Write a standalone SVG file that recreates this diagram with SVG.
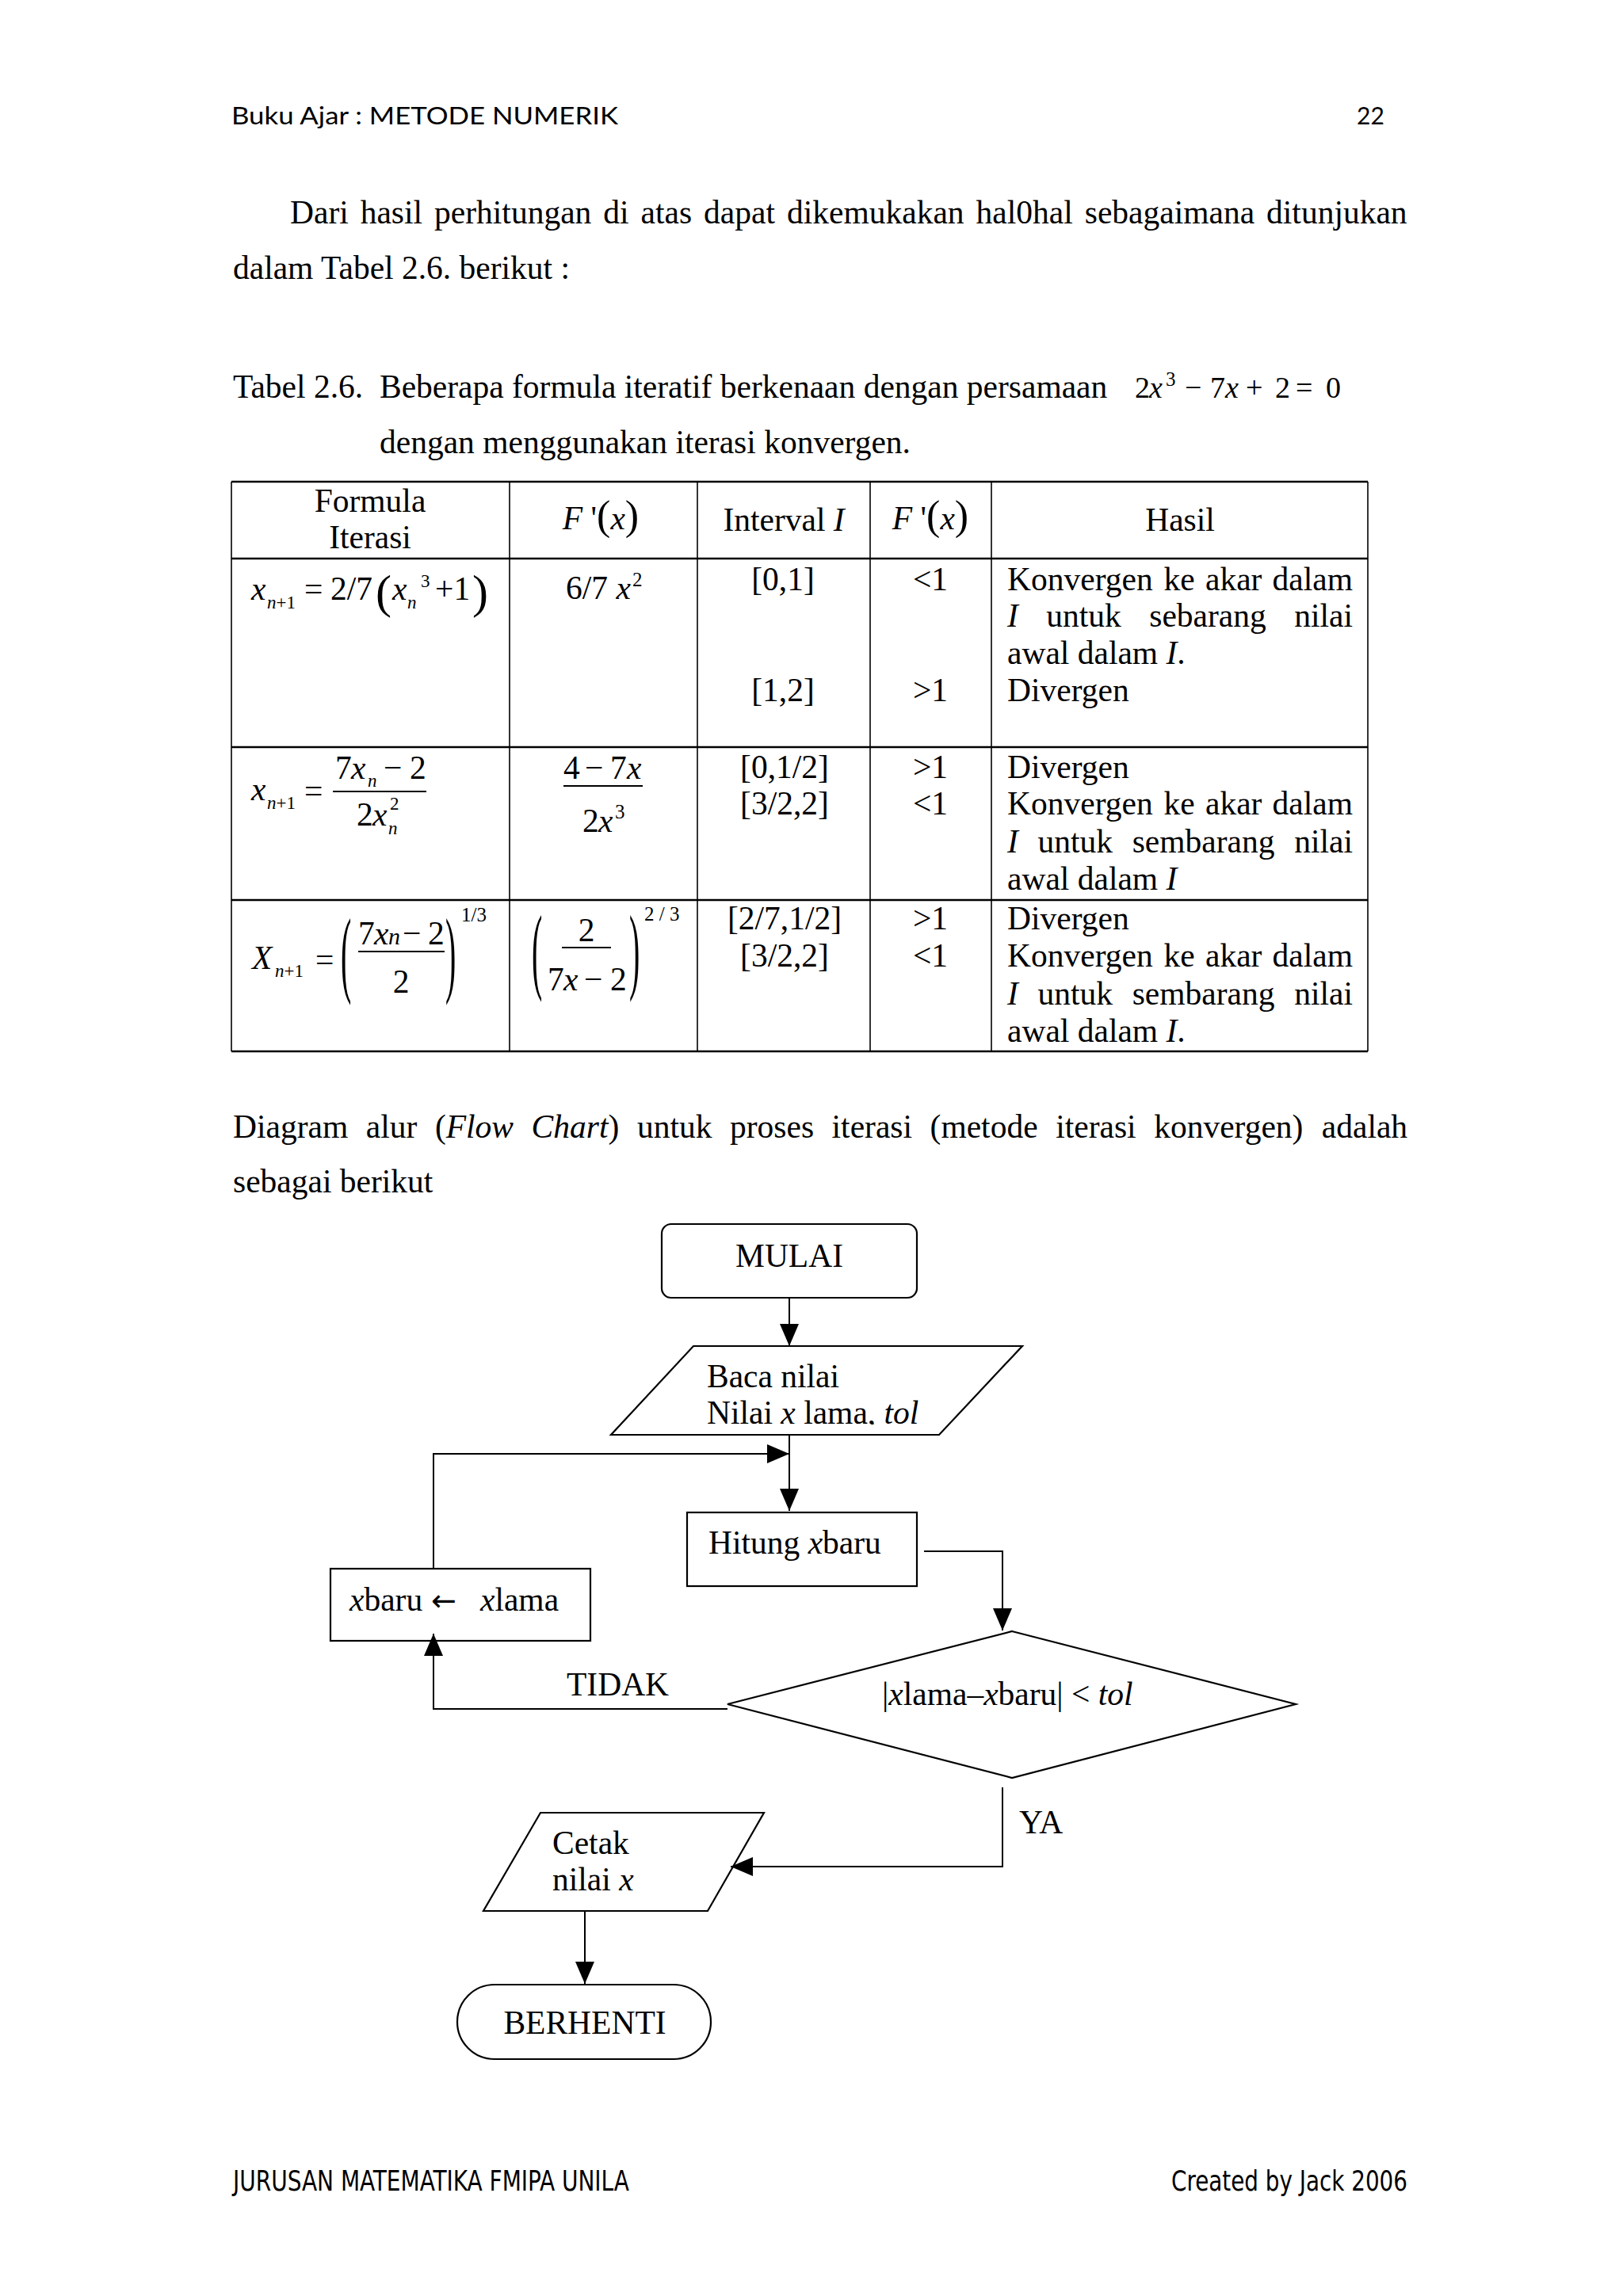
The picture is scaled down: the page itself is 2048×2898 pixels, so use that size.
<svg xmlns="http://www.w3.org/2000/svg" width="2048" height="2898" viewBox="0 0 2048 2898">
<style>
text{font-family:"Liberation Serif","Times New Roman",serif;font-size:41.5px;fill:#000}
.i{font-style:italic}
.s{font-size:25px}
.ss{font-size:23px}
.m{text-anchor:middle}
.eq{font-size:38px}
.big50{font-size:52px}
.big60{font-size:60px}
.arr{font-family:"DejaVu Sans",sans-serif;font-size:38px}
.hd{font-family:Lato,"DejaVu Sans",sans-serif;font-size:30px}
.ft{font-family:"DejaVu Sans Condensed","Liberation Sans Narrow","DejaVu Sans",sans-serif;font-size:36px}
.hl{stroke:#000;stroke-width:2.5;fill:none}
.vl{stroke:#000;stroke-width:1.6;fill:none}
.shape{fill:none;stroke:#000;stroke-width:2.2}
.con{fill:none;stroke:#000;stroke-width:2}
.bar{stroke:#000;stroke-width:2}
</style>
<defs>
<marker id="ah" markerUnits="userSpaceOnUse" markerWidth="28" markerHeight="24" refX="28" refY="12" orient="auto">
<path d="M0,0 L28,12 L0,24 z" fill="#000"/>
</marker>
<clipPath id="bacaclip"><rect x="760" y="1690" width="540" height="108"/></clipPath>
</defs>
<rect width="2048" height="2898" fill="#fff"/>

<!-- header -->
<text class="hd" x="292" y="157" textLength="488" lengthAdjust="spacingAndGlyphs">Buku Ajar : METODE NUMERIK</text>
<text class="hd" x="1712" y="157">22</text>

<!-- paragraph -->
<text y="282"><tspan x="366">Dari</tspan><tspan x="454.7">hasil</tspan><tspan x="548.1">perhitungan</tspan><tspan x="761.3">di</tspan><tspan x="808.6">atas</tspan><tspan x="888.1">dapat</tspan><tspan x="993">dikemukakan</tspan><tspan x="1231.6">hal0hal</tspan><tspan x="1368.8">sebagaimana</tspan><tspan x="1598.1">ditunjukan</tspan></text>
<text x="294" y="352">dalam Tabel 2.6. berikut :</text>

<!-- caption -->
<text y="502"><tspan x="294">Tabel 2.6.</tspan><tspan x="479">Beberapa formula iteratif berkenaan dengan persamaan</tspan></text>
<g id="eq-caption">
<text class="eq" y="502"><tspan x="1432">2</tspan><tspan x="1450" class="i">x</tspan></text>
<text class="s" x="1471" y="487">3</text>
<text class="eq" y="502"><tspan x="1495">−</tspan><tspan x="1527">7</tspan><tspan x="1546" class="i">x</tspan><tspan x="1572">+</tspan><tspan x="1609">2</tspan><tspan x="1635">=</tspan><tspan x="1673">0</tspan></text>
</g>
<text x="479" y="572">dengan menggunakan iterasi konvergen.</text>

<!-- table -->
<g id="table">
<g id="table-lines">
<line class="hl" x1="292" y1="608" x2="1726" y2="608"/>
<line class="hl" x1="292" y1="705" x2="1726" y2="705"/>
<line class="hl" x1="292" y1="943" x2="1726" y2="943"/>
<line class="hl" x1="292" y1="1136" x2="1726" y2="1136"/>
<line class="hl" x1="292" y1="1327" x2="1726" y2="1327"/>
<line class="vl" x1="292" y1="608" x2="292" y2="1327"/>
<line class="vl" x1="643" y1="608" x2="643" y2="1327"/>
<line class="vl" x1="880" y1="608" x2="880" y2="1327"/>
<line class="vl" x1="1098" y1="608" x2="1098" y2="1327"/>
<line class="vl" x1="1251" y1="608" x2="1251" y2="1327"/>
<line class="vl" x1="1726" y1="608" x2="1726" y2="1327"/>
</g>
<g id="table-header">
<text class="m" x="467" y="646">Formula</text>
<text class="m" x="467" y="692">Iterasi</text>
<text class="m" x="758" y="668"><tspan class="i">F</tspan> '<tspan class="big50">(</tspan><tspan class="i">x</tspan><tspan class="big50">)</tspan></text>
<text class="m" x="989" y="670">Interval <tspan class="i">I</tspan></text>
<text class="m" x="1174" y="668"><tspan class="i">F</tspan> '<tspan class="big50">(</tspan><tspan class="i">x</tspan><tspan class="big50">)</tspan></text>
<text class="m" x="1489" y="670">Hasil</text>
</g>
<g id="row1">
<text class="i" x="317" y="757">x</text>
<text class="ss" x="337" y="768"><tspan class="i">n</tspan>+1</text>
<text x="384" y="757">=</text>
<text x="417" y="757">2/7</text>
<text class="big60" x="474" y="767">(</text>
<text class="i" x="495" y="757">x</text>
<text class="ss i" x="514" y="768">n</text>
<text class="ss" x="531" y="741">3</text>
<text x="549" y="757">+1</text>
<text class="big60" x="596" y="767">)</text>
<text x="714" y="756">6/7 <tspan class="i">x</tspan></text>
<text class="s" x="798" y="740">2</text>
<text class="m" x="988" y="745">[0,1]</text>
<text class="m" x="1174" y="745">&lt;1</text>
<text class="m" x="988" y="885">[1,2]</text>
<text class="m" x="1174" y="885">&gt;1</text>
<text y="745"><tspan x="1271">Konvergen</tspan><tspan x="1468.6">ke</tspan><tspan x="1521">akar</tspan><tspan x="1605.6">dalam</tspan></text>
<text y="791"><tspan x="1271" class="i">I</tspan><tspan x="1320.3">untuk</tspan><tspan x="1450.3">sebarang</tspan><tspan x="1633.3">nilai</tspan></text>
<text x="1271" y="838">awal dalam <tspan class="i">I</tspan>.</text>
<text x="1271" y="885">Divergen</text>
</g>
<g id="row2">
<text class="i" x="317" y="1010">x</text>
<text class="ss" x="337" y="1021"><tspan class="i">n</tspan>+1</text>
<text x="384" y="1012">=</text>
<text y="983"><tspan x="423">7</tspan><tspan class="i" x="443">x</tspan></text>
<text class="ss i" x="464" y="993">n</text>
<text y="983"><tspan x="484">−</tspan><tspan x="517">2</tspan></text>
<line class="bar" x1="420" y1="999" x2="538" y2="999"/>
<text y="1042"><tspan x="450">2</tspan><tspan class="i" x="470">x</tspan></text>
<text class="ss i" x="490" y="1053">n</text>
<text class="ss" x="492" y="1022">2</text>
<text y="983"><tspan x="711">4</tspan><tspan x="738">−</tspan><tspan x="770">7</tspan><tspan class="i" x="791">x</tspan></text>
<line class="bar" x1="711" y1="992" x2="811" y2="992"/>
<text y="1050"><tspan x="735">2</tspan><tspan class="i" x="755">x</tspan></text>
<text class="s" x="776" y="1033">3</text>
<text class="m" x="990" y="982">[0,1/2]</text>
<text class="m" x="990" y="1028">[3/2,2]</text>
<text class="m" x="1174" y="982">&gt;1</text>
<text class="m" x="1174" y="1028">&lt;1</text>
<text x="1271" y="982">Divergen</text>
<text y="1028"><tspan x="1271">Konvergen</tspan><tspan x="1468.6">ke</tspan><tspan x="1521">akar</tspan><tspan x="1605.6">dalam</tspan></text>
<text y="1076"><tspan x="1271" class="i">I</tspan><tspan x="1309.5">untuk</tspan><tspan x="1428.7">sembarang</tspan><tspan x="1633.2">nilai</tspan></text>
<text x="1271" y="1123">awal dalam <tspan class="i">I</tspan></text>
</g>
<g id="row3">
<text class="i" x="318" y="1223">X</text>
<text class="ss" x="347" y="1233"><tspan class="i">n</tspan>+1</text>
<text x="398" y="1225">=</text>
<text transform="translate(430,1214) scale(1,3)" y="9.6" style="font-size:40px">(</text>
<text y="1192"><tspan x="452">7</tspan><tspan class="i" x="472">x</tspan></text>
<text class="i" x="490" y="1192" style="font-size:30px">n</text>
<text y="1192"><tspan x="508">−</tspan><tspan x="540">2</tspan></text>
<line class="bar" x1="452" y1="1201" x2="561" y2="1201"/>
<text class="m" x="506" y="1253">2</text>
<text transform="translate(562,1214) scale(1,3)" y="9.6" style="font-size:40px">)</text>
<text class="s" x="582" y="1163">1/3</text>
<text transform="translate(671,1210) scale(1,3)" y="9.6" style="font-size:40px">(</text>
<text class="m" x="740" y="1188">2</text>
<line class="bar" x1="709" y1="1196" x2="771" y2="1196"/>
<text y="1250"><tspan x="691">7</tspan><tspan class="i" x="711">x</tspan><tspan x="737">−</tspan><tspan x="770">2</tspan></text>
<text transform="translate(794,1210) scale(1,3)" y="9.6" style="font-size:40px">)</text>
<text class="s" x="813" y="1162">2 / 3</text>
<text class="m" x="990" y="1173">[2/7,1/2]</text>
<text class="m" x="990" y="1220">[3/2,2]</text>
<text class="m" x="1174" y="1173">&gt;1</text>
<text class="m" x="1174" y="1220">&lt;1</text>
<text x="1271" y="1173">Divergen</text>
<text y="1220"><tspan x="1271">Konvergen</tspan><tspan x="1468.6">ke</tspan><tspan x="1521">akar</tspan><tspan x="1605.6">dalam</tspan></text>
<text y="1268"><tspan x="1271" class="i">I</tspan><tspan x="1309.5">untuk</tspan><tspan x="1428.7">sembarang</tspan><tspan x="1633.2">nilai</tspan></text>
<text x="1271" y="1315">awal dalam <tspan class="i">I</tspan>.</text>
</g>
</g>

<!-- paragraph 2 -->
<text y="1436"><tspan x="294">Diagram</tspan><tspan x="461.8">alur</tspan><tspan x="548.9">(<tspan class="i">Flow</tspan></tspan><tspan x="670.6" class="i">Chart</tspan><tspan>)</tspan><tspan x="803.9">untuk</tspan><tspan x="921">proses</tspan><tspan x="1049.6">iterasi</tspan><tspan x="1173.6">(metode</tspan><tspan x="1332.2">iterasi</tspan><tspan x="1456.2">konvergen)</tspan><tspan x="1667.8">adalah</tspan></text>
<text x="294" y="1505">sebagai berikut</text>

<!-- flowchart connectors -->
<g id="connectors">
<line class="con" x1="996" y1="1638" x2="996" y2="1699" marker-end="url(#ah)"/>
<line class="con" x1="996" y1="1811" x2="996" y2="1907" marker-end="url(#ah)"/>
<path class="con" d="M547,1980 L547,1835 L996,1835" marker-end="url(#ah)"/>
<path class="con" d="M1166,1958 L1265,1958 L1265,2058" marker-end="url(#ah)"/>
<path class="con" d="M918,2157 L547,2157 L547,2062" marker-end="url(#ah)"/>
<path class="con" d="M1265,2256 L1265,2356 L922,2356" marker-end="url(#ah)"/>
<line class="con" x1="738" y1="2412" x2="738" y2="2504" marker-end="url(#ah)"/>
<text x="715" y="2140">TIDAK</text>
<text x="1286" y="2314">YA</text>
</g>

<!-- flowchart nodes -->
<g id="n-mulai">
<rect class="shape" x="835" y="1545" width="322" height="93" rx="12"/>
<text class="m" x="996" y="1599">MULAI</text>
</g>
<g id="n-baca">
<polygon class="shape" points="875,1699 1290,1699 1185,1811 771,1811"/>
<g clip-path="url(#bacaclip)">
<text x="892" y="1751">Baca nilai</text>
<text x="892" y="1797">Nilai <tspan class="i">x</tspan> lama, <tspan class="i">tol</tspan></text>
</g>
</g>
<g id="n-hitung">
<rect class="shape" x="867" y="1909" width="290" height="93"/>
<text x="894" y="1961">Hitung <tspan class="i">x</tspan>baru</text>
</g>
<g id="n-xbaru">
<rect class="shape" x="417" y="1980" width="328" height="91"/>
<text y="2033"><tspan x="441" class="i">x</tspan><tspan>baru</tspan><tspan x="544" class="arr">←</tspan><tspan x="606" class="i">x</tspan><tspan>lama</tspan></text>
</g>
<g id="n-decision">
<polygon class="shape" points="1277,2059 1635,2151 1277,2244 918,2151"/>
<text x="1113" y="2152">|<tspan class="i">x</tspan>lama–<tspan class="i">x</tspan>baru| &lt; <tspan class="i">tol</tspan></text>
</g>
<g id="n-cetak">
<polygon class="shape" points="682,2288 964,2288 893,2412 610,2412"/>
<text x="697" y="2340">Cetak</text>
<text x="697" y="2386">nilai <tspan class="i">x</tspan></text>
</g>
<g id="n-berhenti">
<rect class="shape" x="577" y="2505" width="320" height="94" rx="47" ry="47"/>
<text class="m" x="738" y="2567">BERHENTI</text>
</g>

<!-- footer -->
<text class="ft" x="294" y="2765" textLength="500" lengthAdjust="spacingAndGlyphs">JURUSAN MATEMATIKA FMIPA UNILA</text>
<text class="ft" x="1478" y="2765" textLength="298" lengthAdjust="spacingAndGlyphs">Created by Jack 2006</text>
</svg>
